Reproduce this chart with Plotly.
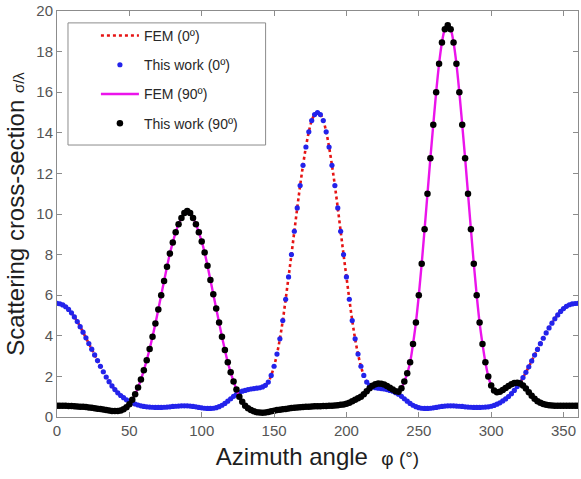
import plotly.graph_objects as go

# Azimuth angle grid (degrees), 2-degree sampling
phi = list(range(0, 361, 2))

# "This work (0º)" scattering cross-section sigma/lambda
this_work_0 = [
    5.60, 5.58, 5.52, 5.43, 5.30, 5.13, 4.93, 4.70, 4.45, 4.18,   # 0-18
    3.90, 3.62, 3.34, 3.06, 2.78, 2.50, 2.23, 1.97, 1.74, 1.53,   # 20-38
    1.35, 1.19, 1.06, 0.95, 0.85, 0.77, 0.70, 0.64, 0.59, 0.55,   # 40-58
    0.52, 0.50, 0.49, 0.48, 0.47, 0.47, 0.47, 0.48, 0.49, 0.50,   # 60-78
    0.52, 0.53, 0.54, 0.55, 0.55, 0.55, 0.54, 0.52, 0.50, 0.47,   # 80-98
    0.45, 0.43, 0.42, 0.42, 0.43, 0.46, 0.51, 0.58, 0.67, 0.78,   # 100-118
    0.90, 1.02, 1.12, 1.20, 1.27, 1.31, 1.35, 1.38, 1.40, 1.42,   # 120-138
    1.44, 1.48, 1.56, 1.72, 2.05, 2.50, 3.10, 3.85, 4.75, 5.80,   # 140-158
    6.90, 8.00, 9.15, 10.30, 11.40, 12.40, 13.30, 14.05, 14.60, 14.90,  # 160-178
    15.00,                                                         # 180
    14.90, 14.60, 14.05, 13.30, 12.40, 11.40, 10.30, 9.15, 8.00, 6.90,  # 182-200
    5.80, 4.75, 3.85, 3.10, 2.50, 2.05, 1.72, 1.56, 1.48, 1.44,   # 202-220
    1.42, 1.40, 1.38, 1.35, 1.31, 1.27, 1.20, 1.12, 1.02, 0.90,   # 222-240
    0.78, 0.67, 0.58, 0.51, 0.46, 0.43, 0.42, 0.42, 0.43, 0.45,   # 242-260
    0.47, 0.50, 0.52, 0.54, 0.55, 0.55, 0.55, 0.54, 0.53, 0.52,   # 262-280
    0.50, 0.49, 0.48, 0.47, 0.47, 0.47, 0.48, 0.49, 0.50, 0.53,   # 282-300
    0.57, 0.63, 0.70, 0.79, 0.89, 1.01, 1.15, 1.31, 1.50, 1.71,   # 302-320
    1.94, 2.20, 2.47, 2.76, 3.05, 3.33, 3.61, 3.88, 4.14, 4.39,   # 322-340
    4.62, 4.84, 5.03, 5.20, 5.34, 5.45, 5.53, 5.57, 5.59, 5.60,   # 342-360
]

# "This work (90º)"
this_work_90 = [
    0.55, 0.55, 0.55, 0.55, 0.54, 0.54, 0.53, 0.52, 0.51, 0.50,   # 0-18
    0.49, 0.47, 0.45, 0.43, 0.41, 0.39, 0.37, 0.34, 0.32, 0.30,   # 20-38
    0.29, 0.29, 0.32, 0.38, 0.48, 0.63, 0.85, 1.12, 1.45, 1.85,   # 40-58
    2.30, 2.80, 3.35, 3.95, 4.60, 5.30, 6.00, 6.70, 7.40, 8.05,   # 60-78
    8.60, 9.10, 9.50, 9.80, 10.05, 10.15, 10.05, 9.80, 9.50, 9.10,  # 80-98
    8.65, 8.10, 7.45, 6.75, 6.05, 5.35, 4.65, 3.95, 3.30, 2.70,   # 100-118
    2.20, 1.75, 1.35, 1.00, 0.75, 0.55, 0.43, 0.34, 0.28, 0.24,   # 120-138
    0.22, 0.21, 0.22, 0.25, 0.28, 0.31, 0.34, 0.36, 0.38, 0.40,   # 140-158
    0.42, 0.44, 0.46, 0.47, 0.48, 0.49, 0.50, 0.51, 0.52, 0.53,   # 160-178
    0.53,                                                          # 180
    0.53, 0.54, 0.54, 0.55, 0.56, 0.57, 0.58, 0.60, 0.62, 0.65,   # 182-200
    0.70, 0.77, 0.85, 0.92, 1.00, 1.12, 1.27, 1.42, 1.54, 1.61,   # 202-220
    1.65, 1.64, 1.60, 1.53, 1.44, 1.35, 1.27, 1.25, 1.42, 1.75,   # 222-240
    2.15, 2.70, 3.60, 4.65, 6.00, 7.55, 9.25, 11.00, 12.75, 14.40,  # 242-260
    16.00, 17.40, 18.45, 19.10, 19.30, 19.10, 18.45, 17.40, 16.00, 14.40,  # 262-280
    12.75, 11.00, 9.25, 7.55, 6.00, 4.65, 3.60, 2.70, 2.00, 1.55,  # 282-300
    1.30, 1.22, 1.25, 1.33, 1.43, 1.53, 1.61, 1.67, 1.69, 1.65,   # 302-320
    1.55, 1.40, 1.22, 1.05, 0.90, 0.78, 0.70, 0.64, 0.60, 0.58,   # 322-340
    0.57, 0.56, 0.56, 0.55, 0.55, 0.55, 0.55, 0.55, 0.55, 0.55,   # 342-360
]

# FEM reference curves (coincide with the model on this sampling)
fem_0 = list(this_work_0)
fem_90 = list(this_work_90)

x_ticks = [0, 50, 100, 150, 200, 250, 300, 350]
y_ticks = [0, 2, 4, 6, 8, 10, 12, 14, 16, 18, 20]

FONT = "Liberation Sans, Arial, Helvetica, sans-serif"
AXIS_GRAY = "rgb(140,140,140)"

fig = go.Figure()
fig.add_trace(go.Scatter(
    x=phi, y=fem_0, mode="lines", name="FEM (0º)", legendgroup="a",
    line=dict(color="rgb(230,20,20)", width=2.6, dash="dot", shape="spline"),
))
fig.add_trace(go.Scatter(
    x=phi, y=this_work_0, mode="markers", name="This work (0º)", legendgroup="b",
    marker=dict(color="rgb(35,35,235)", size=5.2),
))
fig.add_trace(go.Scatter(
    x=phi, y=fem_90, mode="lines", name="FEM (90º)", legendgroup="c",
    line=dict(color="rgb(235,20,235)", width=2.4, shape="spline"),
))
fig.add_trace(go.Scatter(
    x=phi, y=this_work_90, mode="markers", name="This work (90º)", legendgroup="d",
    marker=dict(color="black", size=6.5),
))

axis_common = dict(
    showline=True, linecolor=AXIS_GRAY, linewidth=1, mirror="ticks",
    ticks="inside", ticklen=5, tickcolor=AXIS_GRAY, showgrid=False,
    zeroline=False, ticklabeloverflow="allow",
    tickfont=dict(family=FONT, size=15, color="rgb(85,85,85)"),
)

fig.update_layout(
    width=581, height=479,
    margin=dict(l=57, r=2, t=8, b=62),
    paper_bgcolor="white", plot_bgcolor="white",
    font=dict(family=FONT, color="black"),
    xaxis=dict(
        range=[0, 360], tickvals=x_ticks,
        title=dict(text="Azimuth angle  <span style='font-size:19px'>φ (°)</span>",
                   font=dict(family=FONT, size=24, color="rgb(30,30,30)"), standoff=10),
        **axis_common,
    ),
    yaxis=dict(
        range=[0, 20], tickvals=y_ticks,
        title=dict(text="Scattering cross-section <span style='font-size:15px'>σ/λ</span>",
                   font=dict(family=FONT, size=24, color="rgb(30,30,30)"), standoff=4),
        **axis_common,
    ),
    legend=dict(
        x=0.0747, y=0.978, xanchor="left", yanchor="top",
        bgcolor="rgba(0,0,0,0)", borderwidth=0,
        font=dict(family=FONT, size=14, color="rgb(40,40,40)"),
        traceorder="grouped", tracegroupgap=8, itemwidth=38,
    ),
    shapes=[dict(
        type="rect", xref="paper", yref="paper",
        x0=0.0211, x1=0.4004, y0=0.6699, y1=0.9707,
        line=dict(color=AXIS_GRAY, width=1), fillcolor="white", layer="below",
    )],
    showlegend=True,
)

fig.write_html("out.html")
